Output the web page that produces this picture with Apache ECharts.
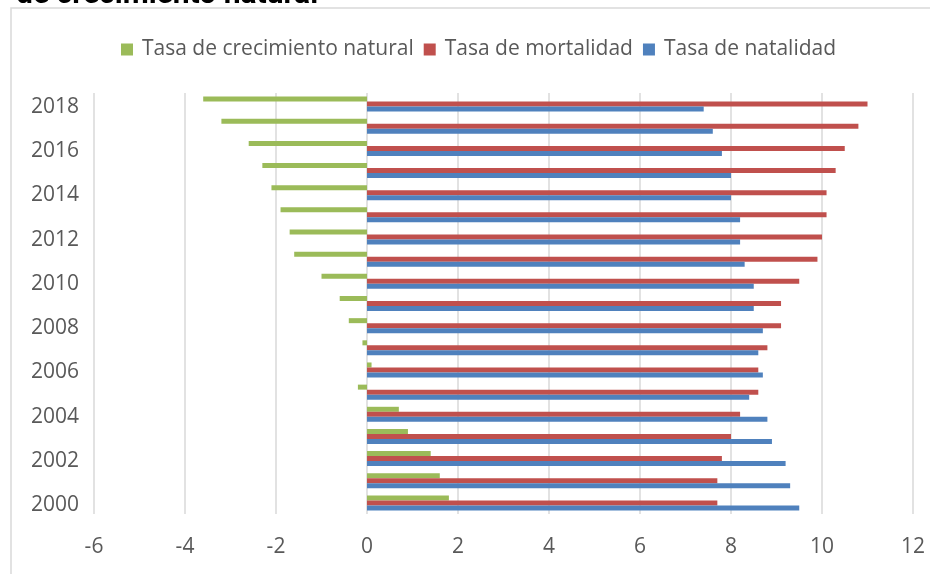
<!DOCTYPE html>
<html>
<head>
<meta charset="utf-8">
<script src="https://cdn.jsdelivr.net/npm/echarts@6/dist/echarts.min.js"></script>
<style>
    html, body { margin: 0; padding: 0; background: #fff; }
    #main { width: 930px; height: 574px; }
</style>
</head>
<body>
<div id="main"></div>
<script>
// datos (tasas por 1000 habitantes)
var years = ['2000', '2001', '2002', '2003', '2004', '2005', '2006', '2007', '2008', '2009',
             '2010', '2011', '2012', '2013', '2014', '2015', '2016', '2017', '2018'];
var crecimiento = [1.8, 1.6, 1.4, 0.9, 0.7, -0.2, 0.1, -0.1, -0.4, -0.6,
                   -1.0, -1.6, -1.7, -1.9, -2.1, -2.3, -2.6, -3.2, -3.6];
var mortalidad = [7.7, 7.7, 7.8, 8.0, 8.2, 8.6, 8.6, 8.8, 9.1, 9.1,
                  9.5, 9.9, 10.0, 10.1, 10.1, 10.3, 10.5, 10.8, 11.0];
var natalidad = [9.5, 9.3, 9.2, 8.9, 8.8, 8.4, 8.7, 8.6, 8.7, 8.5,
                 8.5, 8.3, 8.2, 8.2, 8.0, 8.0, 7.8, 7.6, 7.4];
var xTicks = {min: -6, max: 12, step: 2};

~function () {
    var myChart = echarts.init(document.getElementById('main'));
    var font = '"Open Sans", "Noto Sans", sans-serif';
    var option = {
        textStyle: { fontFamily: font },
        title: {
            text: 'de crecimiento natural',
            left: 11,
            top: -25,
            textStyle: {
                fontFamily: 'Roboto, "Noto Sans", sans-serif',
                fontSize: 30,
                fontWeight: 'bold',
                color: '#000'
            }
        },
        graphic: [
            {
                type: 'rect',
                shape: {x: 11, y: 8, width: 930, height: 580},
                style: {fill: null, stroke: '#d9d9d9', lineWidth: 1.5},
                silent: true
            }
        ],
        legend: {
            top: 34,
            left: 116,
            itemWidth: 12,
            itemHeight: 12,
            itemGap: 10,
            icon: 'rect',
            textStyle: {
                fontSize: 21,
                color: '#595959',
                padding: [0, 0, 0, 4]
            },
            data: ['Tasa de crecimiento natural', 'Tasa de mortalidad', 'Tasa de natalidad']
        },
        grid: {
            left: 94,
            right: 17,
            top: 93,
            bottom: 60
        },
        xAxis: {
            type: 'value',
            min: xTicks.min,
            max: xTicks.max,
            interval: xTicks.step,
            axisLine: {show: false},
            axisTick: {show: false},
            axisLabel: {
                fontSize: 21,
                color: '#595959',
                margin: 23
            },
            splitLine: {
                lineStyle: {color: '#d9d9d9', width: 1.5}
            }
        },
        yAxis: {
            type: 'category',
            data: years,
            axisLine: {show: false},
            axisTick: {show: false},
            axisLabel: {
                interval: 1,
                margin: 15,
                formatter: '{y|{value}}',
                rich: {
                    y: {
                        fontSize: 21,
                        color: '#595959',
                        padding: [5, 0, 0, 0]
                    }
                }
            }
        },
        series: [
            {
                name: 'Tasa de crecimiento natural',
                type: 'bar',
                data: crecimiento,
                barWidth: 5,
                barGap: '0%',
                itemStyle: {color: '#9bbb59'}
            },
            {
                name: 'Tasa de mortalidad',
                type: 'bar',
                data: mortalidad,
                barWidth: 5,
                barGap: '0%',
                itemStyle: {color: '#c0504d'}
            },
            {
                name: 'Tasa de natalidad',
                type: 'bar',
                data: natalidad,
                barWidth: 5,
                barGap: '0%',
                itemStyle: {color: '#4f81bd'}
            }
        ]
    };
    myChart.setOption(option);
}();
</script>
</body>
</html>
